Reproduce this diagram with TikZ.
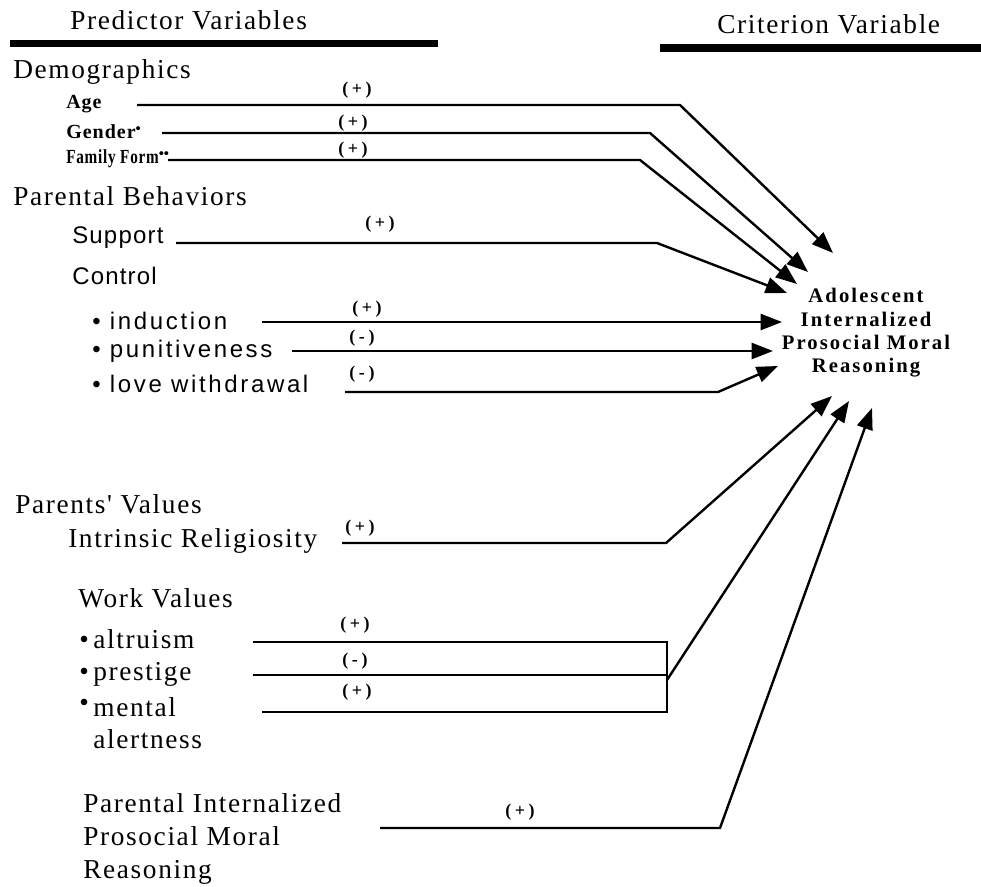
\documentclass[tikz,border=0pt]{standalone}
\usepackage{fontspec}
\usepackage{graphicx}
\setmainfont{Liberation Serif}
\newfontfamily\serifls{Liberation Serif}[LetterSpace=6]
\newfontfamily\smallls{Liberation Serif}[LetterSpace=5]
\newfontfamily\sansls{Liberation Sans}[LetterSpace=5]
\newfontfamily\sanswide{Liberation Sans}[LetterSpace=11]
\newfontfamily\boldls{Liberation Serif}[LetterSpace=10]
\newfontfamily\signls{Liberation Serif}[LetterSpace=20]
\usetikzlibrary{arrows.meta}
\newcommand{\supbul}{\raisebox{.5ex}{\fontsize{11}{11}\selectfont\textbullet}}
\begin{document}
\begin{tikzpicture}[x=0.75pt,y=-0.75pt,
  lab/.style={inner sep=0pt, anchor=base west, font=\serifls\fontsize{20.5}{23}\selectfont},
  smalllab/.style={lab, font=\smallls\bfseries\fontsize{15}{17}\selectfont},
  sanslab/.style={lab, font=\sansls\fontsize{18}{20}\selectfont},
  bullab/.style={lab, font=\sanswide\fontsize{18}{20}\selectfont},
  sign/.style={inner sep=0pt, font=\signls\bfseries\fontsize{13.5}{14}\selectfont},
  conn/.style={line width=1.8pt, line join=miter, -{Triangle[length=16pt,width=12pt]}},
  wire/.style={line width=1.8pt, line join=miter},
  bar/.style={fill=black, draw=none}]
\useasboundingbox (0,0) rectangle (981,886);

% headers
\node[lab] (pv) at (70,29) {Predictor Variables};
\node[lab] (cv) at (717,33) {Criterion Variable};
\fill[bar] (10,40) rectangle (438,47);
\fill[bar] (660,44) rectangle (981,52);

% target
\node[inner sep=0pt, align=center, font=\boldls\bfseries\fontsize{15.5}{17.5}\selectfont] (crit) at (866,333)
  {Adolescent\\Internalized\\Prosocial Moral\\Reasoning};

% predictors
\node[lab] (demo) at (13,78) {Demographics};
\node[smalllab] (age) at (66,108) {Age};
\node[smalllab] (gen) at (66,138) {Gender\supbul};
\node[smalllab] (fam) at (66,163) {\scalebox{0.76}[1]{Family Form}\supbul\supbul};
\node[lab] (pb) at (13,205) {Parental Behaviors};
\node[sanslab] (sup) at (72,243) {Support};
\node[sanslab] (ctl) at (72,284) {Control};
\node[bullab] (ind) at (92,329) {\textbullet\ induction};
\node[bullab] (pun) at (92,357) {\textbullet\ punitiveness};
\node[bullab] (lw) at (92,392) {\textbullet\ love withdrawal};
\node[lab] (pval) at (15,513) {Parents' Values};
\node[lab] (ir) at (68,547) {Intrinsic Religiosity};
\node[lab] (wv) at (78,607) {Work Values};
\node[lab] (alt) at (79,648) {\textbullet\,altruism};
\node[lab] (pres) at (79,680) {\textbullet\,prestige};
\node[lab] (ment) at (79,716) {\raisebox{.35ex}{\textbullet}\,mental};
\node[lab] (alert) at (93,748) {alertness};
\node[inner sep=0pt, anchor=north west, align=left, font=\serifls\fontsize{20.5}{25}\selectfont] (pipm) at (83,793)
  {Parental Internalized\\Prosocial Moral\\Reasoning};

% connector coordinates
\coordinate (sAge) at (137,105); \coordinate (bAge) at (680,105); \coordinate (tAge) at (833,253);
\coordinate (sGen) at (162,133); \coordinate (bGen) at (650,133); \coordinate (tGen) at (808,272);
\coordinate (sFam) at (168,160); \coordinate (bFam) at (640,160); \coordinate (tFam) at (797,284);
\coordinate (sSup) at (176,243); \coordinate (bSup) at (657,243); \coordinate (tSup) at (787,293);
\coordinate (sInd) at (262,322); \coordinate (tInd) at (782,322);
\coordinate (sPun) at (292,351); \coordinate (tPun) at (773,351);
\coordinate (sLw) at (345,392); \coordinate (bLw) at (718,392); \coordinate (tLw) at (778,366);
\coordinate (sIr) at (342,543); \coordinate (bIr) at (666,543); \coordinate (tIr) at (832,396);
\coordinate (sAlt) at (253,642); \coordinate (eAlt) at (667,642);
\coordinate (sPres) at (253,675); \coordinate (ePres) at (667,675);
\coordinate (sMent) at (262,712); \coordinate (eMent) at (667,712);
\coordinate (jWv) at (667,680); \coordinate (tWv) at (849,401);
\coordinate (sPi) at (380,828); \coordinate (bPi) at (720,828); \coordinate (tPi) at (872,408);

\draw[conn] (sAge) -- (bAge) -- (tAge);
\draw[conn] (sGen) -- (bGen) -- (tGen);
\draw[conn] (sFam) -- (bFam) -- (tFam);
\draw[conn] (sSup) -- (bSup) -- (tSup);
\draw[conn] (sInd) -- (tInd);
\draw[conn] (sPun) -- (tPun);
\draw[conn] (sLw) -- (bLw) -- (tLw);
\draw[conn] (sIr) -- (bIr) -- (tIr);
\draw[wire] (sAlt) -- (eAlt) -- (eMent) -- (sMent);
\draw[wire] (sPres) -- (ePres);
\draw[conn] (jWv) -- (tWv);
\draw[conn] (sPi) -- (bPi) -- (tPi);

% signs
\node[sign] (gAge) at (357,90) {(+)};
\node[sign] (gGen) at (353,123) {(+)};
\node[sign] (gFam) at (353,150) {(+)};
\node[sign] (gSup) at (380,224) {(+)};
\node[sign] (gInd) at (367,309) {(+)};
\node[sign] (gPun) at (362,338) {(-)};
\node[sign] (gLw) at (362,374) {(-)};
\node[sign] (gIr) at (360,528) {(+)};
\node[sign] (gAlt) at (355,625) {(+)};
\node[sign] (gPres) at (355,661) {(-)};
\node[sign] (gMent) at (357,692) {(+)};
\node[sign] (gPi) at (520,812) {(+)};
\end{tikzpicture}
\end{document}
